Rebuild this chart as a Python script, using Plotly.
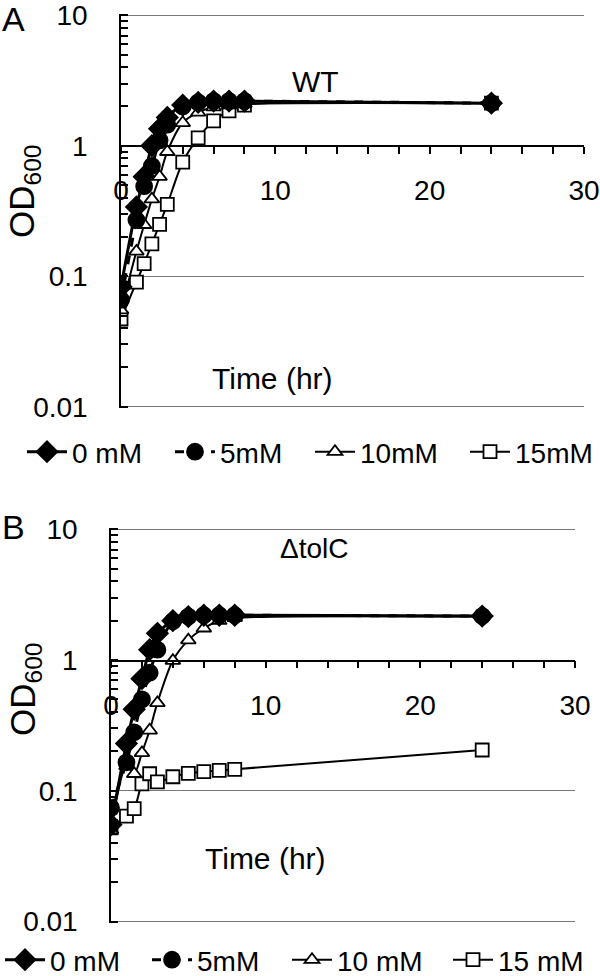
import plotly.graph_objects as go

# ---------------- data ----------------
time_h = [0, 1, 1.5, 2, 2.5, 3, 4, 5, 6, 7, 8, 24]
x_ticks = [0, 10, 20, 30]
y_tick_vals = [0.01, 0.1, 1, 10]
y_tick_text = ["0.01", "0.1", "1", "10"]

series_names_a = ["0 mM", "5mM", "10mM", "15mM"]
series_names_b = ["0 mM", "5mM", "10 mM", "15 mM"]

wt_0mM = [0.083, 0.34, 0.58, 1.0, 1.35, 1.65, 2.05, 2.15, 2.2, 2.2, 2.2, 2.12]
wt_5mM = [0.066, 0.27, 0.49, 0.70, 1.1, 1.45, 2.0, 2.15, 2.2, 2.2, 2.2, 2.12]
wt_10mM = [0.055, 0.155, 0.248, 0.39, 0.58, 0.90, 1.5, 1.8, 1.98, 2.05, 2.1, 2.12]
wt_15mM = [0.047, 0.090, 0.125, 0.177, 0.25, 0.355, 0.75, 1.15, 1.55, 1.85, 2.05, 2.12]

tolc_0mM = [0.055, 0.23, 0.42, 0.72, 1.2, 1.6, 2.0, 2.15, 2.2, 2.2, 2.2, 2.17]
tolc_5mM = [0.074, 0.165, 0.28, 0.50, 0.80, 1.2, 1.98, 2.15, 2.2, 2.2, 2.2, 2.17]
tolc_10mM = [0.05, 0.155, 0.135, 0.195, 0.29, 0.47, 0.99, 1.42, 1.75, 2.0, 2.1, 2.15]
tolc_15mM = [0.052, 0.064, 0.073, 0.113, 0.135, 0.117, 0.128, 0.136, 0.14, 0.143, 0.146, 0.205]

FONT = "Arial, 'Liberation Sans', sans-serif"
W, H = 600, 976

styles = [
    dict(symbol="diamond", size=16, color="black", lw=3, dash="solid"),
    dict(symbol="circle", size=16, color="black", lw=3, dash="dash"),
    dict(symbol="triangle-up", size=13, color="white", lw=2, dash="solid"),
    dict(symbol="square", size=13, color="white", lw=2, dash="solid"),
]
# horizontal spacing of legend entries (px) for each panel
legend_widths_a = [93, 85, 100, 85]
legend_widths_b = [92, 85, 106, 84]
draw_order = [3, 2, 0, 1]  # open markers below, filled circles on top

fig = go.Figure()

def add_panel(data, names, widths, xa, ya, legend):
    for i in draw_order:
        st = styles[i]
        fig.add_trace(go.Scatter(
            x=time_h, y=data[i], name=names[i], mode="lines+markers",
            xaxis=xa, yaxis=ya, legend=legend, legendrank=i + 1,
            legendwidth=widths[i],
            line=dict(color="black", width=st["lw"], dash=st["dash"],
                      shape="spline", smoothing=0.8),
            marker=dict(symbol=st["symbol"], size=st["size"], color=st["color"],
                        line=dict(color="black", width=1.8)),
        ))

add_panel([wt_0mM, wt_5mM, wt_10mM, wt_15mM], series_names_a, legend_widths_a, "x", "y", "legend")
add_panel([tolc_0mM, tolc_5mM, tolc_10mM, tolc_15mM], series_names_b, legend_widths_b, "x2", "y2", "legend2")

minor_log = [m * 10 ** e for e in range(-2, 1) for m in range(2, 10)]

def px(v):
    return v / W

def py(v):
    return 1 - v / H

EXT = 0.012  # tiny range padding (decades) so the edge gridlines are drawn

def xaxis(left, right, pos_y):
    return dict(
        domain=[px(left), px(right)], range=[0, 30], anchor="free", position=py(pos_y),
        showline=True, linecolor="black", linewidth=1.5,
        ticks="outside", ticklen=7, tickwidth=1.5, tickcolor="black",
        tickvals=x_ticks, showgrid=False, zeroline=False,
        minor=dict(dtick=2, tick0=0, ticks="outside", ticklen=7, tickwidth=1.5,
                   tickcolor="black", showgrid=False),
        tickfont=dict(family=FONT, size=28, color="black"),
        ticklabelstandoff=13,
    )

def yaxis(top, bottom, anchor):
    per_dec = (bottom - top) / 3.0
    t = top - EXT * per_dec
    b = bottom + EXT * per_dec
    return dict(
        type="log", range=[-2 - EXT, 1 + EXT], domain=[py(b), py(t)], anchor=anchor,
        showline=True, linecolor="black", linewidth=1.5,
        ticks="inside", ticklen=7, tickwidth=1.5, tickcolor="black",
        tickvals=y_tick_vals, ticktext=y_tick_text,
        showgrid=True, gridcolor="#7a7a7a", gridwidth=1.4, zeroline=False,
        minor=dict(tickvals=minor_log, ticks="inside", ticklen=7, tickwidth=1.5,
                   tickcolor="black", showgrid=False),
        tickfont=dict(family=FONT, size=28, color="black"),
        ticklabelstandoff=26,
    )

legend_common = dict(
    orientation="h", xanchor="left", yanchor="middle",
    font=dict(family=FONT, size=28, color="black"),
    bgcolor="rgba(0,0,0,0)", itemwidth=40, tracegroupgap=0,
    traceorder="normal", itemclick=False,
)

fig.update_layout(
    width=W, height=H,
    margin=dict(l=0, r=0, t=0, b=0, pad=0, autoexpand=False),
    paper_bgcolor="white", plot_bgcolor="white",
    showlegend=True,
    xaxis=xaxis(121, 584, 146),
    yaxis=yaxis(15.3, 406.7, "x"),
    xaxis2=xaxis(111, 575, 660.7),
    yaxis2=yaxis(529.3, 921.5, "x2"),
    legend=dict(x=px(22), y=py(452), **legend_common),
    legend2=dict(x=0, y=py(960), **legend_common),
    font=dict(family=FONT, color="black"),
)

def ann(text, x, y, size=28, angle=0, xanchor="center"):
    fig.add_annotation(text=text, x=px(x), y=py(y), xref="paper", yref="paper",
                       showarrow=False, textangle=angle, xanchor=xanchor,
                       yanchor="middle",
                       font=dict(family=FONT, size=size, color="black"))

ann("A", 0, 19, size=34, xanchor="left")
ann("B", 0, 527, size=34, xanchor="left")
ann("WT", 315, 82, size=30)
ann("\u0394tolC", 314, 548, size=28)
ann("Time (hr)", 272, 378, size=30)
ann("Time (hr)", 265, 858, size=30)
ann("OD<sub>600</sub>", 24, 192, size=35, angle=-90)
ann("OD<sub>600</sub>", 25, 690, size=35, angle=-90)

fig.write_html("out.html", config={"displayModeBar": False},
               post_script="document.body.style.margin='0px';")
